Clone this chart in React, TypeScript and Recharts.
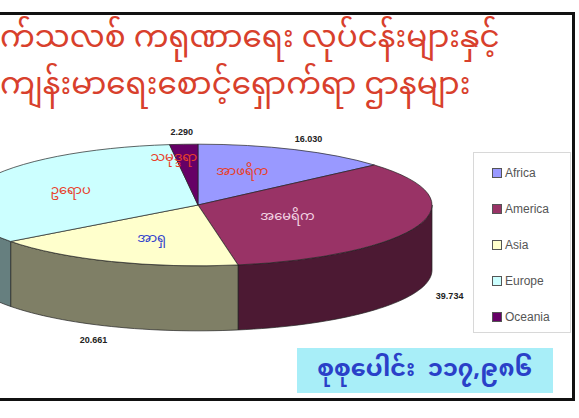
import React from 'react';
import { PieChart, Pie, Legend } from 'recharts';

const regions = ['Africa', 'America', 'Asia', 'Europe', 'Oceania'];
const regionLabels = ['အာဖရိက', 'အမေရိက', 'အာရှ', 'ဥရောပ', 'သမုဒ္ဒရာ'];
const values = [16.03, 39.734, 20.661, 39.271, 2.29];
const valueLabels = ['16.030', '39.734', '20.661', '39.271', '2.290'];
const topColors = ['#9999ff', '#993366', '#ffffcc', '#ccffff', '#660066'];
const sideColors = ['#4c4c80', '#4c1933', '#7f7f66', '#667f7f', '#330033'];
const nameColors = ['#e8402a', '#f4d6e4', '#3344cc', '#e8402a', '#e8402a'];
const titleLines = ['က်သလစ် ကရုဏာရေး လုပ်ငန်းများနှင့်', 'ကျန်းမာရေးစောင့်ရှောက်ရာ ဌာနများ'];
const totalLabel = 'စုစုပေါင်း  ၁၁၇,၉၈၆';

const data = regions.map((r, i) => ({
  name: r,
  value: values[i],
  fill: topColors[i],
  side: sideColors[i],
  mm: regionLabels[i],
  vl: valueLabels[i],
  nc: nameColors[i],
}));

const TILT = 0.26;
const DEPTH = 65;
const MM_FONT = '"Noto Sans Myanmar", "Padauk", "Myanmar Text", "Noto Sans", sans-serif';

function pt(cx: number, cy: number, rx: number, ry: number, deg: number) {
  const a = (deg * Math.PI) / 180;
  return [cx + rx * Math.cos(a), cy - ry * Math.sin(a)];
}

function Slice3D(props: any) {
  const { cx, cy, outerRadius, startAngle, endAngle } = props;
  const p = props.payload && props.payload.side ? props.payload : props;
  const rx = outerRadius;
  const ry = outerRadius * TILT;
  const p1 = pt(cx, cy, rx, ry, startAngle);
  const p2 = pt(cx, cy, rx, ry, endAngle);
  const large = Math.abs(endAngle - startAngle) > 180 ? 1 : 0;
  const sweep = startAngle > endAngle ? 1 : 0;
  const top = `M${cx},${cy} L${p1[0]},${p1[1]} A${rx},${ry} 0 ${large} ${sweep} ${p2[0]},${p2[1]} Z`;
  const a1 = Math.min(startAngle, endAngle);
  const a2 = Math.max(startAngle, endAngle);
  const sides: string[] = [];
  for (let k = -2; k <= 2; k++) {
    const lo = Math.max(a1, -180 + 360 * k);
    const hi = Math.min(a2, 360 * k);
    if (hi - lo > 0.01) {
      const pts: number[][] = [];
      const n = Math.max(4, Math.ceil((hi - lo) / 2));
      for (let j = 0; j <= n; j++) pts.push(pt(cx, cy, rx, ry, lo + ((hi - lo) * j) / n));
      const back = pts.slice().reverse().map((q) => [q[0], q[1] + DEPTH]);
      const all = pts.concat(back);
      sides.push('M' + all.map((q) => `${q[0].toFixed(2)},${q[1].toFixed(2)}`).join(' L') + ' Z');
    }
  }
  return (
    <g>
      {sides.map((d, i) => (
        <path key={i} d={d} fill={p.side} stroke="#222" strokeWidth={0.7} />
      ))}
      <path d={top} fill={p.fill || props.fill} stroke="#222" strokeWidth={0.7} />
    </g>
  );
}

function SliceLabel(props: any) {
  const { cx, cy, midAngle, outerRadius, percent } = props;
  const p = props.payload && props.payload.mm ? props.payload : props;
  const rx = outerRadius;
  const ry = outerRadius * TILT;
  const a = (midAngle * Math.PI) / 180;
  const c = Math.cos(a);
  const s = Math.sin(a);
  const tiny = percent < 0.05;
  const ix = cx + rx * (0.5 - 0.1 * c) * c - (tiny ? 17 : 0);
  const iy = cy - ry * (tiny ? 0.78 : 0.6) * s;
  const ox = cx + (rx + 33) * c - (s < 0 && c < 0 ? 6 : 0);
  const oy = cy - (ry + 12) * s + (s < 0 ? DEPTH + 2 : 0);
  return (
    <g>
      <text x={ix} y={iy} textAnchor="middle" dominantBaseline="central" fill={p.nc} fontSize={13} fontFamily={MM_FONT}>
        {p.mm}
      </text>
      {ox > 10 && (
        <text x={ox} y={oy} textAnchor="middle" dominantBaseline="central" fill="#222" fontSize={9} fontWeight="bold" fontFamily="Liberation Sans, Arial, sans-serif">
          {p.vl}
        </text>
      )}
    </g>
  );
}

function LegendBox(props: any) {
  const payload = props.payload || [];
  return (
    <div style={{ border: '1px solid #d8d8d8', width: 98, height: 181, boxSizing: 'border-box', paddingTop: 2, background: '#fff' }}>
      {payload.map((e: any, i: number) => (
        <div key={i} style={{ display: 'flex', alignItems: 'center', height: 36, marginLeft: 18, fontFamily: 'Liberation Sans, Arial, sans-serif', fontSize: 12, color: '#555' }}>
          <span style={{ display: 'inline-block', width: 8, height: 8, background: e.color, border: '1px solid #555', marginRight: 3 }} />
          {e.value}
        </div>
      ))}
    </div>
  );
}

export default function App() {
  return (
    <div style={{ position: 'absolute', left: 0, top: 0, width: 579, height: 418, background: '#fff', overflow: 'hidden' }}>
      <div style={{ position: 'absolute', left: -6, top: 12, width: 581, height: 389, border: '3px solid #111', boxSizing: 'border-box' }} />
      <PieChart width={579} height={418} style={{ position: 'absolute', left: 0, top: 0 }}>
        <Pie
          data={data}
          dataKey="value"
          nameKey="name"
          cx={193}
          cy={200}
          outerRadius={234}
          startAngle={90}
          endAngle={-270}
          isAnimationActive={false}
          shape={Slice3D}
          label={SliceLabel}
          labelLine={false}
        />
        <Legend
          content={LegendBox}
          layout="vertical"
          wrapperStyle={{ position: 'absolute', left: 473, top: 152, width: 98, height: 181 }}
        />
      </PieChart>
      <div style={{ position: 'absolute', left: 0, top: 17, fontFamily: MM_FONT, fontSize: 31, color: '#d8402c', lineHeight: '47px', whiteSpace: 'pre' }}>
        {titleLines.join('\n')}
      </div>
      <div style={{ position: 'absolute', left: 297, top: 348, width: 256, height: 45, background: '#a8eef8', display: 'flex', alignItems: 'center', justifyContent: 'center', fontFamily: MM_FONT, fontSize: 24, fontWeight: 'bold', color: '#2a40c8', whiteSpace: 'pre' }}>
        {totalLabel}
      </div>
    </div>
  );
}
